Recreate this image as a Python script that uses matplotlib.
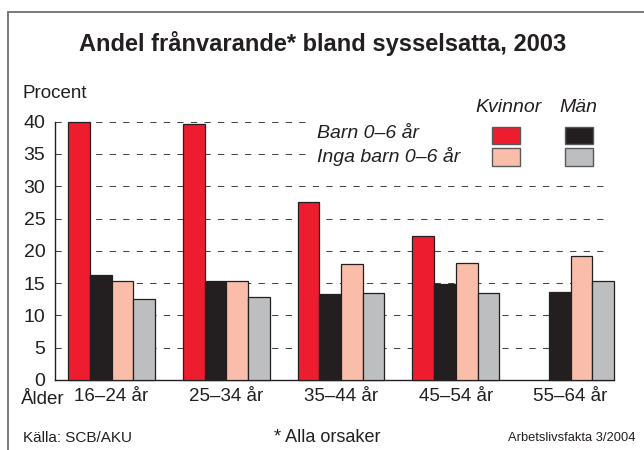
import matplotlib
matplotlib.use("Agg")
import matplotlib.pyplot as plt
import numpy as np
from matplotlib.patches import Rectangle

plt.rcParams["font.family"] = ["Liberation Sans", "DejaVu Sans"]

age_groups = ["16–24 år", "25–34 år", "35–44 år", "45–54 år", "55–64 år"]
women_kids = [40.0, 39.7, 27.6, 22.3, np.nan]
men_kids = [16.3, 15.4, 13.3, 14.8, 13.6]
women_nokids = [15.4, 15.4, 17.9, 18.1, 19.2]
men_nokids = [12.6, 12.8, 13.5, 13.4, 15.3]
yticks = [0, 5, 10, 15, 20, 25, 30, 35, 40]

RED = "#ED1C2E"
BLACK = "#231F20"
PINK = "#F9BDA9"
GREY = "#BCBEC0"

W, H = 644, 450
fig = plt.figure(figsize=(W / 100, H / 100), dpi=100)


def fx(px):
    return px / W


def fy(py):
    return 1 - py / H


ax = fig.add_axes([fx(55), fy(380), fx(614) - fx(55), fy(121.7) - fy(380)])

x = np.arange(len(age_groups))
bw = 0.189
series = [(women_kids, RED), (men_kids, BLACK), (women_nokids, PINK), (men_nokids, GREY)]
for i, (vals, col) in enumerate(series):
    ax.bar(x + (i - 1.5) * bw, vals, width=bw, color=col, edgecolor=BLACK,
           linewidth=0.9, zorder=3, clip_on=False)

ax.set_xlim(-0.493, 4.378)
ax.set_ylim(0, 40)

# dashed guides; the two top ones stop short of the legend
for t in yticks[1:]:
    xmax = 0.45 if t >= 35 else 0.9875
    ax.axhline(t, xmin=0, xmax=xmax, color="#444444", lw=0.75,
               linestyle=(0, (6, 7)), zorder=1, clip_on=False)

ax.set_yticks(yticks)
ax.set_yticklabels([str(t) for t in yticks], fontsize=14, color=BLACK)
ax.set_xticks(x)
ax.set_xticklabels(age_groups, fontsize=13.5, color=BLACK)
ax.tick_params(axis="both", length=0)
ax.tick_params(axis="y", pad=7)
ax.tick_params(axis="x", pad=6)
for s in ["top", "right"]:
    ax.spines[s].set_visible(False)
for s in ["left", "bottom"]:
    ax.spines[s].set_color(BLACK)
    ax.spines[s].set_linewidth(1.0)

# frame around the figure (left and top edges visible)
fig.add_artist(Rectangle((fx(8), fy(460)), fx(660) - fx(8), fy(12) - fy(460),
                         transform=fig.transFigure, fill=False,
                         edgecolor="#6d6e70", lw=1.3))

fig.text(fx(323), fy(44), "Andel frånvarande* bland sysselsatta, 2003",
         ha="center", va="center", fontsize=17, fontweight="bold", color=BLACK)
fig.text(fx(23), fy(93), "Procent", ha="left", va="center", fontsize=13.5, color=BLACK)
fig.text(fx(21), fy(399), "Ålder", ha="left", va="center", fontsize=13.5, color=BLACK)

# legend
fig.text(fx(509), fy(107), "Kvinnor", ha="center", va="center", fontsize=14,
         style="italic", color=BLACK)
fig.text(fx(578), fy(107), "Män", ha="center", va="center", fontsize=14,
         style="italic", color=BLACK)
fig.text(fx(317), fy(133), "Barn 0–6 år", ha="left", va="center", fontsize=14,
         style="italic", color=BLACK)
fig.text(fx(317), fy(156), "Inga barn 0–6 år", ha="left", va="center", fontsize=14,
         style="italic", color=BLACK)
boxes = [(492, 126.7, RED), (565, 126.7, BLACK), (492, 148, PINK), (565, 148, GREY)]
for bx, by, col in boxes:
    fig.add_artist(Rectangle((fx(bx), fy(by + 17.5)), fx(28), 17.5 / H,
                             transform=fig.transFigure, facecolor=col,
                             edgecolor="#58595b", lw=1.0))

# footer
fig.text(fx(23), fy(438), "Källa: SCB/AKU", ha="left", va="center", fontsize=11, color=BLACK)
fig.text(fx(327), fy(438), "* Alla orsaker", ha="center", va="center", fontsize=13, color=BLACK)
fig.text(fx(635), fy(438), "Arbetslivsfakta 3/2004", ha="right", va="center", fontsize=9.3,
         color=BLACK)

fig.savefig("out.png", dpi=100)
